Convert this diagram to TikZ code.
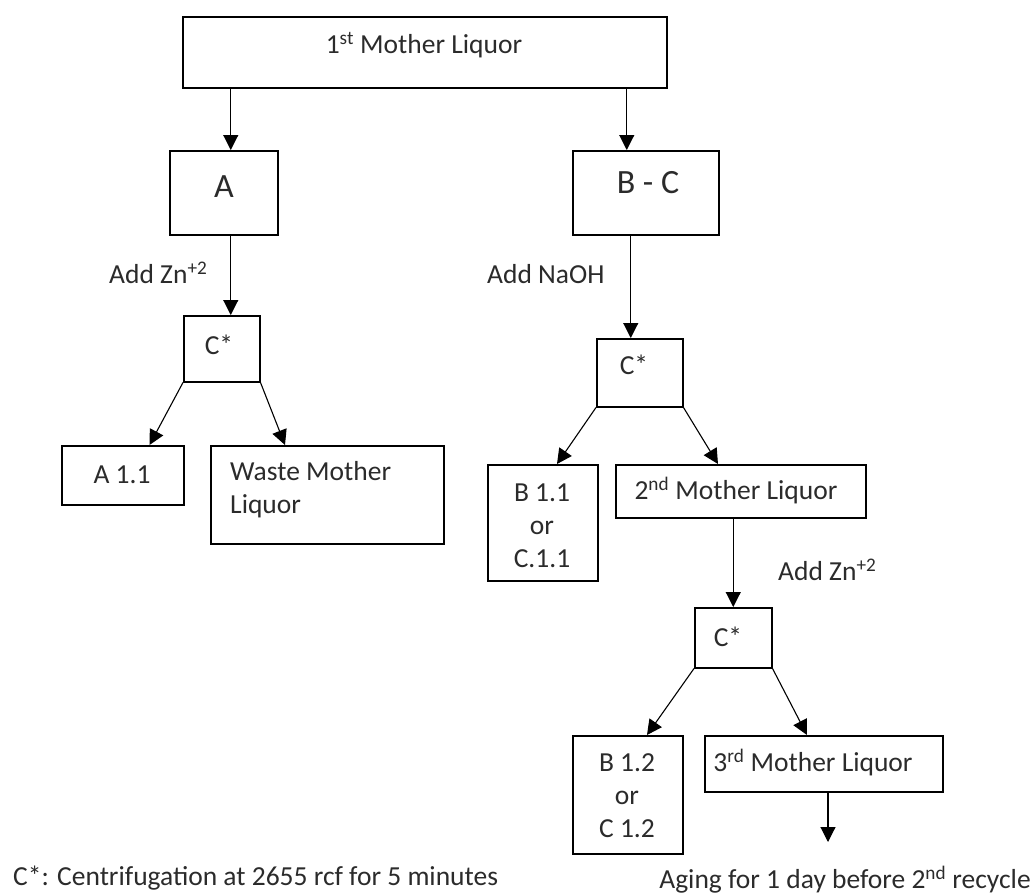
\documentclass[tikz,border=0pt]{standalone}
\usepackage{fontspec}
\setmainfont{Carlito}
\usetikzlibrary{arrows.meta,calc}
\definecolor{txt}{HTML}{2B2B2B}
\begin{document}
\begin{tikzpicture}[x=1pt,y=-1pt,
  box/.style={draw=black,line width=1.5pt,inner sep=0pt,anchor=north west},
  lbl/.style={text=txt,inner sep=0pt,font=\fontsize{27.5}{33}\selectfont},
  big/.style={text=txt,inner sep=0pt,font=\fontsize{34}{40}\selectfont},
  arr/.style={draw=black,line width=1.1pt,-{Triangle[width=15pt,length=15pt]}}]
\useasboundingbox (0,0) rectangle (1034,895);
% boxes
\node[box,minimum width=484,minimum height=71] (top) at (182,16) {};
\node[box,minimum width=108,minimum height=84] (A) at (169,150) {};
\node[box,minimum width=146,minimum height=84] (BC) at (572,150) {};
\node[box,minimum width=76,minimum height=66] (cs1) at (183,315) {};
\node[box,minimum width=86,minimum height=68] (cs2) at (596,338) {};
\node[box,minimum width=122,minimum height=59] (a11) at (61,445) {};
\node[box,minimum width=233,minimum height=98] (waste) at (210,445) {};
\node[box,minimum width=110,minimum height=116] (b11) at (487,464) {};
\node[box,minimum width=250,minimum height=53] (ml2) at (615,464) {};
\node[box,minimum width=77,minimum height=60] (cs3) at (694,607) {};
\node[box,minimum width=110,minimum height=118] (b12) at (572,735) {};
\node[box,minimum width=238,minimum height=56] (ml3) at (704,735) {};
% texts
\node[lbl] (ttop) at (424,45) {1\textsuperscript{st} Mother Liquor};
\node[big] (tA) at (224,187) {A};
\node[big] (tBC) at (648,183) {B - C};
\node[lbl] (tcs1) at (219,345) {C*};
\node[lbl] (tcs2) at (634,365) {C*};
\node[lbl] (tcs3) at (728,637) {C*};
\node[lbl] (ta11) at (122,475) {A 1.1};
\node[lbl,anchor=north west,align=left] (twaste) at (230,461) {Waste Mother\\Liquor};
\node[lbl,align=center] (tb11) at (542,526) {B 1.1\\or\\C.1.1};
\node[lbl] (tml2) at (736,491) {2\textsuperscript{nd} Mother Liquor};
\node[lbl,align=center] (tb12) at (627,796) {B 1.2\\or\\C 1.2};
\node[lbl] (tml3) at (813,763) {3\textsuperscript{rd} Mother Liquor};
\node[lbl,anchor=west] (zn1) at (109,273) {Add Zn\textsuperscript{+2}};
\node[lbl,anchor=west] (naoh) at (487,274) {Add NaOH};
\node[lbl,anchor=west] (zn2) at (778,570) {Add Zn\textsuperscript{+2}};
\node[lbl] (aging) at (845,880) {Aging for 1 day before 2\textsuperscript{nd} recycle};
\node[lbl,anchor=west] (foot) at (13,878) {C*: Centrifugation at 2655 rcf for 5 minutes};
% connectors
\coordinate (aIn) at ([xshift=7pt]A.north);
\draw[arr] (top.south -| aIn) -- (aIn);
\coordinate (bcIn) at ([xshift=-19pt]BC.north);
\draw[arr] (top.south -| bcIn) -- (bcIn);
\coordinate (cs1In) at ([xshift=9pt]cs1.north);
\draw[arr] (A.south -| cs1In) -- (cs1In);
\coordinate (cs2In) at ([xshift=-9pt]cs2.north);
\draw[arr] (BC.south -| cs2In) -- (cs2In);
\draw[arr] (ml2.south -| cs3.north) -- (cs3.north);
\draw[arr] (cs1.south west) -- ([xshift=-35pt]a11.north east);
\draw[arr] (cs1.south east) -- ([xshift=75pt]waste.north west);
\draw[arr] (cs2.south west) -- ([xshift=70pt]b11.north west);
\draw[arr] (cs2.south east) -- ([xshift=103pt]ml2.north west);
\draw[arr] (cs3.south west) -- ([xshift=75pt]b12.north west);
\draw[arr] (cs3.south east) -- ([xshift=103pt]ml3.north west);
\coordinate (endp) at (828,842);
\draw[arr] (ml3.south -| endp) -- (endp);
\end{tikzpicture}
\end{document}
